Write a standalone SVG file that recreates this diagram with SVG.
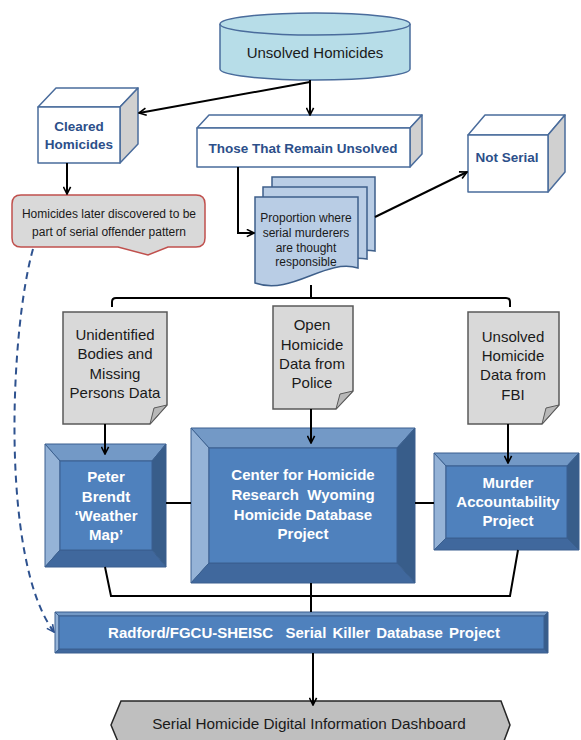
<svg xmlns="http://www.w3.org/2000/svg" width="581" height="740" viewBox="0 0 581 740">
<defs>
<marker id="ah" viewBox="0 0 10 10" refX="9" refY="5" markerWidth="9" markerHeight="9" markerUnits="userSpaceOnUse" orient="auto">
<path d="M1,1 L9,5 L1,9" fill="none" stroke="#000" stroke-width="1.8"/>
</marker>
<marker id="ahb" viewBox="0 0 10 10" refX="9" refY="5" markerWidth="9" markerHeight="9" markerUnits="userSpaceOnUse" orient="auto">
<path d="M1,1 L9,5 L1,9" fill="none" stroke="#2e528f" stroke-width="1.8"/>
</marker>
</defs>
<style>
text{font-family:"Liberation Sans",Arial,sans-serif;text-anchor:middle;white-space:pre}
.cube{stroke:#4a6c9c;stroke-width:1.5;stroke-linejoin:round}
.cf{fill:#ffffff}
.cs{fill:#d0d0d0}
.ct{font-weight:bold;font-size:13.5px;fill:#2c4f8a}
.doc{fill:#d9d9d9;stroke:#595959;stroke-width:1.5}
.fold{fill:#b8b8b8;stroke:#595959;stroke-width:1}
.dt{font-size:15px;fill:#1a1a1a}
.bv{stroke:#3a5f8f;stroke-width:1}
.bt{fill:#7399c6}.bl{fill:#95b3d7}.br{fill:#385d8a}.bb{fill:#40689d}.bi{fill:#4f81bd}
.wt{font-weight:bold;font-size:15px;fill:#ffffff}
.pg{fill:#b9cde5;stroke:#3e5f8a;stroke-width:1.5}
.ln{fill:none;stroke:#000;stroke-width:2}
.arr{marker-end:url(#ah)}
</style>

<g id="unsolved-homicides">
<path d="M220,24 V69 A95,11 0 0 0 410,69 V24" fill="#b7dde8" stroke="#4a6c9c" stroke-width="1.5"/>
<ellipse cx="315" cy="24" rx="95" ry="11" fill="#b7dde8" stroke="#4a6c9c" stroke-width="1.5"/>
<text x="315" y="58" font-size="15" fill="#1a1a1a">Unsolved Homicides</text>
</g>

<g id="cleared-homicides">
<polygon class="cube cf" points="38,107 56,88 138,88 120,107"/>
<polygon class="cube cs" points="120,107 138,88 138,144 120,163"/>
<rect class="cube cf" x="38" y="107" width="82" height="56"/>
<text class="ct" x="79" y="131">Cleared</text>
<text class="ct" x="79" y="149">Homicides</text>
</g>

<g id="remain-unsolved">
<polygon class="cube cf" points="197,128 209,115 422,115 410,128"/>
<polygon class="cube cs" points="410,128 422,115 422,154 410,167"/>
<rect class="cube cf" x="197" y="128" width="213" height="39"/>
<text class="ct" x="303" y="153">Those That Remain Unsolved</text>
</g>

<g id="not-serial">
<polygon class="cube cf" points="468,135 485,115 565,115 548,135"/>
<polygon class="cube cs" points="548,135 565,115 565,172 548,192"/>
<rect class="cube cf" x="468" y="135" width="80" height="57"/>
<text class="ct" x="507" y="162">Not Serial</text>
</g>

<g id="later-discovered">
<path d="M21,195 H196 Q205,195 205,204 V238 Q205,247 196,247 H168 L148,255 L118,247 H21 Q12,247 12,238 V204 Q12,195 21,195 Z" fill="#d9d9d9" stroke="#c0504d" stroke-width="1.5"/>
<text x="109" y="218" font-size="12" fill="#1a1a1a">Homicides later discovered to be</text>
<text x="109" y="236" font-size="12" fill="#1a1a1a">part of serial offender pattern</text>
</g>

<g id="proportion-serial">
<path class="pg" d="M272,177 H375 V251 C352,246 310,264 272,262 Z"/>
<path class="pg" d="M263,187 H367 V259 C343,254 300,273 263,272 Z"/>
<path class="pg" d="M255,197 H358 V268 C325,258 292,296 255,283 Z"/>
<text x="306" y="222" font-size="12" fill="#1a1a1a">Proportion where</text>
<text x="306" y="237" font-size="12" fill="#1a1a1a">serial murderers</text>
<text x="306" y="252" font-size="12" fill="#1a1a1a">are thought</text>
<text x="306" y="266" font-size="12" fill="#1a1a1a">responsible</text>
</g>

<g id="unidentified-bodies">
<path class="doc" d="M63,312 H167 V405 L150,424 H63 Z"/>
<path class="fold" d="M150,424 L154,408 L167,405 Z"/>
<text class="dt" x="115" y="340">Unidentified</text>
<text class="dt" x="115" y="359">Bodies and</text>
<text class="dt" x="115" y="379">Missing</text>
<text class="dt" x="115" y="398">Persons Data</text>
</g>

<g id="open-homicide-police">
<path class="doc" d="M273,306 H353 V391 L336,409 H273 Z"/>
<path class="fold" d="M336,409 L340,394 L353,391 Z"/>
<text class="dt" x="312" y="330">Open</text>
<text class="dt" x="312" y="350">Homicide</text>
<text class="dt" x="312" y="369">Data from</text>
<text class="dt" x="312" y="388">Police</text>
</g>

<g id="unsolved-fbi">
<path class="doc" d="M468,312 H559 V405 L542,424 H468 Z"/>
<path class="fold" d="M542,424 L546,408 L559,405 Z"/>
<text class="dt" x="513" y="342">Unsolved</text>
<text class="dt" x="513" y="361">Homicide</text>
<text class="dt" x="513" y="380">Data from</text>
<text class="dt" x="513" y="400">FBI</text>
</g>

<g id="peter-brendt">
<polygon class="bv bt" points="45,444 166,444 152,461 60,461"/>
<polygon class="bv bl" points="45,444 60,461 60,550 45,567"/>
<polygon class="bv br" points="166,444 166,567 152,550 152,461"/>
<polygon class="bv bb" points="45,567 60,550 152,550 166,567"/>
<rect class="bv bi" x="60" y="461" width="92" height="89"/>
<text class="wt" x="106" y="482">Peter</text>
<text class="wt" x="106" y="502">Brendt</text>
<text class="wt" x="106" y="521">‘Weather</text>
<text class="wt" x="106" y="540">Map’</text>
</g>

<g id="center-homicide-research">
<polygon class="bv bt" points="191,428 415,428 397,448 209,448"/>
<polygon class="bv bl" points="191,428 209,448 209,563 191,583"/>
<polygon class="bv br" points="415,428 415,583 397,563 397,448"/>
<polygon class="bv bb" points="191,583 209,563 397,563 415,583"/>
<rect class="bv bi" x="209" y="448" width="188" height="115"/>
<text class="wt" x="303" y="480" font-size="15.5">Center for Homicide</text>
<text class="wt" x="303" y="500" font-size="15.5">Research  Wyoming</text>
<text class="wt" x="303" y="520" font-size="15.5">Homicide Database</text>
<text class="wt" x="303" y="539" font-size="15.5">Project</text>
</g>

<g id="murder-accountability">
<polygon class="bv bt" points="434,453 579,453 567,466 446,466"/>
<polygon class="bv bl" points="434,453 446,466 446,538 434,550"/>
<polygon class="bv br" points="579,453 579,550 567,538 567,466"/>
<polygon class="bv bb" points="434,550 446,538 567,538 579,550"/>
<rect class="bv bi" x="446" y="466" width="121" height="72"/>
<text class="wt" x="508" y="488">Murder</text>
<text class="wt" x="508" y="507">Accountability</text>
<text class="wt" x="508" y="526">Project</text>
</g>

<g id="radford-fgcu">
<polygon class="bv bt" points="55,612 548,612 544,616 59,616"/>
<polygon class="bv bl" points="55,612 59,616 59,649 55,653"/>
<polygon class="bv br" points="548,612 548,653 544,649 544,616"/>
<polygon class="bv bb" points="55,653 59,649 544,649 548,653"/>
<rect class="bv bi" x="59" y="616" width="485" height="33"/>
<text class="wt" x="304" y="638" word-spacing="2">Radford/FGCU-SHEISC  Serial Killer Database Project</text>
</g>

<g id="dashboard">
<polygon points="111,725 121,701 501,701 510,725 501,749 121,749" fill="#bfbfbf" stroke="#262626" stroke-width="1.5"/>
<text x="309" y="729" font-size="15.3" fill="#1a1a1a">Serial Homicide Digital Information Dashboard</text>
</g>

<g id="connectors">
<path class="ln arr" d="M310,80 V115"/>
<path class="ln arr" d="M310,82 L139,113"/>
<path class="ln arr" d="M67,163 V194"/>
<path class="ln arr" d="M238,167 V233 H254"/>
<path class="ln arr" d="M375,217 L467,172"/>
<path class="ln" d="M112,307 V302 Q112,298 116,298 H506 Q510,298 510,302 V307"/>
<path class="ln" d="M311,285 V298"/>
<path class="ln arr" d="M105,424 V454"/>
<path class="ln arr" d="M311,409 V443"/>
<path class="ln arr" d="M508,424 V463"/>
<path class="ln" d="M166,503 H191"/>
<path class="ln" d="M415,503 H434"/>
<path class="ln" d="M105,567 L111,596 H510 L518,550"/>
<path class="ln" d="M311,583 V612"/>
<path class="ln arr" d="M313,653 V705"/>
<path d="M33,249 C10,330 0,560 54,632" fill="none" stroke="#2e528f" stroke-width="2" stroke-dasharray="7,5" marker-end="url(#ahb)"/>
</g>
</svg>
